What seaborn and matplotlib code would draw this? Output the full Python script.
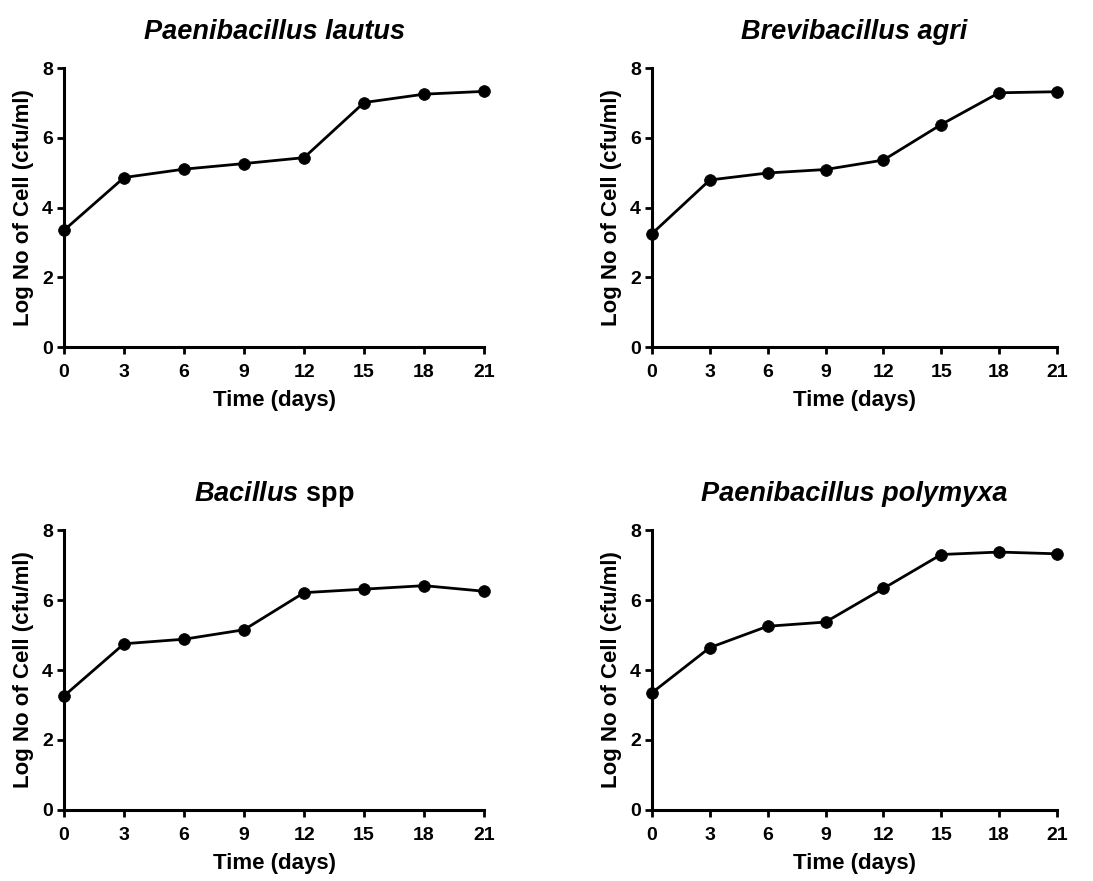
import numpy as np
import pandas as pd
import seaborn as sns
import matplotlib.pyplot as plt

days = [0, 3, 6, 9, 12, 15, 18, 21]

lautus = [3.35, 4.86, 5.10, 5.26, 5.43, 7.01, 7.25, 7.33]
agri = [3.25, 4.79, 4.99, 5.09, 5.36, 6.38, 7.29, 7.32]
bacillus = [3.26, 4.75, 4.88, 5.15, 6.21, 6.31, 6.41, 6.25]
polymyxa = [3.35, 4.64, 5.25, 5.37, 6.33, 7.30, 7.37, 7.32]

titles = ["Paenibacillus lautus", "Brevibacillus agri",
          r"$\mathit{Bacillus}$ spp", "Paenibacillus polymyxa"]
italic = [True, True, False, True]
series = [lautus, agri, bacillus, polymyxa]

sns.set_style("ticks")
plt.rcParams["font.family"] = ["Liberation Sans", "DejaVu Sans"]
plt.rcParams["font.weight"] = "bold"
plt.rcParams["text.color"] = "black"
plt.rcParams["axes.labelcolor"] = "black"
plt.rcParams["xtick.color"] = "black"
plt.rcParams["ytick.color"] = "black"
plt.rcParams["mathtext.fontset"] = "custom"
plt.rcParams["mathtext.it"] = "Liberation Sans:italic:bold"
plt.rcParams["mathtext.rm"] = "Liberation Sans:bold"

fig = plt.figure(figsize=(10.93, 8.81), dpi=100)

# left, bottom, width, height in figure fractions
boxes = [
    [0.0586, 0.6061, 0.3843, 0.3167],
    [0.5965, 0.6061, 0.3705, 0.3167],
    [0.0586, 0.0806, 0.3843, 0.3178],
    [0.5965, 0.0806, 0.3705, 0.3178],
]

for box, vals, title, it in zip(boxes, series, titles, italic):
    ax = fig.add_axes(box)
    df = pd.DataFrame({"Time": days, "Log": vals})
    sns.lineplot(data=df, x="Time", y="Log", ax=ax, color="black",
                 marker="o", markersize=8.5, linewidth=2,
                 markeredgecolor="black", markeredgewidth=0.5, clip_on=False)
    ax.set_xlim(0, 21)
    ax.set_ylim(0, 8)
    ax.set_xticks(range(0, 22, 3))
    ax.set_yticks(range(0, 9, 2))
    sns.despine(ax=ax)
    for s in ["left", "bottom"]:
        ax.spines[s].set_linewidth(2.2)
        ax.spines[s].set_color("black")
    ax.tick_params(axis="both", direction="out", length=5, width=2,
                   color="black", labelcolor="black", labelsize=14)
    ax.tick_params(axis="x", pad=7)
    ax.tick_params(axis="y", pad=3)
    for lab in ax.get_xticklabels() + ax.get_yticklabels():
        lab.set_fontweight("bold")
    ax.set_xlabel("Time (days)", fontsize=16, fontweight="bold", labelpad=6.5)
    ax.set_ylabel("Log No of Cell (cfu/ml)", fontsize=16, fontweight="bold", labelpad=5.5)
    ax.set_title(title, fontsize=19.5, fontweight="bold", color="black",
                 fontstyle="italic" if it else "normal", pad=21)

fig.savefig("out.png", dpi=100, facecolor="white")
